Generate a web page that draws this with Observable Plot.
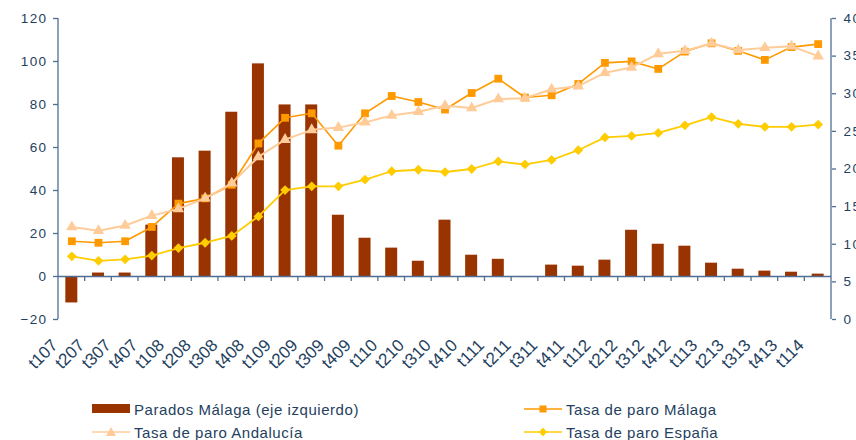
<!DOCTYPE html>
<html>
<head>
<meta charset="utf-8">
<script src="https://cdn.jsdelivr.net/npm/d3@7"></script>
<script src="https://cdn.jsdelivr.net/npm/@observablehq/plot@0.6"></script>
<style>
  html, body { margin: 0; padding: 0; background: #fff; }
  #wrap { position: relative; width: 856px; height: 440px; overflow: hidden; font-family: "Liberation Sans", Arial, sans-serif; }
  #chart { position: absolute; left: 0; top: 0; }
  #chart g[aria-label="y-axis tick label"] { letter-spacing: 1.4px; }
  .lg { position: absolute; display: flex; align-items: center; font-size: 15px; color: #243F60; letter-spacing: 0.55px; white-space: nowrap; }
  .lg svg { margin-right: 4px; }
</style>
</head>
<body>
<div id="wrap">
  <div id="chart"></div>
  <div id="legend"></div>
</div>
<script>
// ---- data ----
const periods = ["t107","t207","t307","t407","t108","t208","t308","t408","t109","t209","t309","t409","t110","t210","t310","t410","t111","t211","t311","t411","t112","t212","t312","t412","t113","t213","t313","t413","t114"];
const paradosMalaga = [-12.3, 1.6, 1.6, 23.9, 55.2, 58.3, 76.4, 98.9, 79.8, 79.8, 28.5, 17.8, 13.2, 7.1, 26.2, 9.9, 8.0, -0.5, 5.3, 4.8, 7.6, 21.5, 15.0, 14.1, 6.2, 3.4, 2.5, 2.0, 1.1];
const tasaMalaga = [10.4, 10.2, 10.4, 12.3, 15.4, 16.1, 17.9, 23.4, 26.8, 27.4, 23.1, 27.4, 29.7, 28.9, 27.9, 30.1, 32.0, 29.5, 29.8, 31.3, 34.1, 34.3, 33.3, 35.6, 36.7, 35.7, 34.5, 36.2, 36.6];
const tasaAndalucia = [12.3, 11.8, 12.5, 13.8, 14.7, 16.1, 18.1, 21.6, 23.9, 25.2, 25.5, 26.2, 27.1, 27.6, 28.4, 28.1, 29.3, 29.4, 30.6, 31.0, 32.8, 33.5, 35.3, 35.7, 36.7, 35.8, 36.1, 36.3, 35.0];
const tasaEspana = [8.4, 7.8, 8.0, 8.5, 9.5, 10.2, 11.1, 13.7, 17.2, 17.7, 17.7, 18.6, 19.7, 19.9, 19.6, 20.0, 21.0, 20.6, 21.2, 22.5, 24.2, 24.4, 24.8, 25.8, 26.9, 26.0, 25.6, 25.6, 25.9];
const leftTicks = [-20, 0, 20, 40, 60, 80, 100, 120];
const rightTicks = [0, 5, 10, 15, 20, 25, 30, 35, 40];
const seriesNames = ["Parados Málaga (eje izquierdo)", "Tasa de paro Málaga", "Tasa de paro Andalucía", "Tasa de paro España"];

// ---- styling ----
const navy = "#243F60";
const axisColor = "#4F6E93";
const colBar = "#993300", colMal = "#FF9900", colAnd = "#FFCC99", colEsp = "#FFCC00";

const leftDomain = [leftTicks[0], leftTicks[leftTicks.length - 1]];
const rightDomain = [rightTicks[0], rightTicks[rightTicks.length - 1]];
const k = (leftDomain[1] - leftDomain[0]) / (rightDomain[1] - rightDomain[0]);
const toLeft = v => leftDomain[0] + (v - rightDomain[0]) * k;
const fromLeft = v => rightDomain[0] + (v - leftDomain[0]) / k;

const rows = periods.map((p, i) => ({
  period: p,
  parados: paradosMalaga[i],
  malaga: toLeft(tasaMalaga[i]),
  andalucia: toLeft(tasaAndalucia[i]),
  espana: toLeft(tasaEspana[i])
}));

const W = 856, H = 390;
const mL = 58, mR = 25, mT = 18, mB = 71;

// custom axis lines & category boundary ticks using the plot's scales
function axisFrame(index, scales, values, dimensions) {
  const g = d3.create("svg:g").attr("stroke", axisColor).attr("stroke-width", 1.3);
  const x0 = dimensions.marginLeft, x1 = dimensions.width - dimensions.marginRight;
  const yTop = scales.y(leftDomain[1]), yBot = scales.y(leftDomain[0]), y0 = scales.y(0);
  g.append("line").attr("x1", x0).attr("x2", x0).attr("y1", yTop).attr("y2", yBot);
  g.append("line").attr("x1", x1).attr("x2", x1).attr("y1", yTop).attr("y2", yBot);
  const step = scales.x.step();
  const bw = scales.x.bandwidth();
  periods.slice(1).forEach(p => {
    const xb = scales.x(p) + bw / 2 - step / 2;
    g.append("line").attr("x1", xb).attr("x2", xb).attr("y1", y0).attr("y2", y0 + 5);
  });
  return g.node();
}

const chart = Plot.plot({
  width: W, height: H,
  marginLeft: mL, marginRight: mR, marginTop: mT, marginBottom: mB,
  style: { fontFamily: "Liberation Sans, Arial, sans-serif", background: "white", color: navy, overflow: "visible" },
  x: { domain: periods, paddingInner: 0.55, paddingOuter: 0.275, round: false, axis: null, label: null },
  y: { domain: leftDomain, axis: null, label: null },
  marks: [
    Plot.barY(rows, { x: "period", y: "parados", fill: colBar }),
    Plot.ruleY([0], { stroke: axisColor, strokeWidth: 1.3 }),
    axisFrame,
    Plot.axisY(leftTicks, { anchor: "left", label: null, tickSize: 5, tickPadding: 6, fontSize: 13.5, stroke: axisColor, fill: navy, strokeWidth: 1.3 }),
    Plot.axisY(rightTicks.map(toLeft), { anchor: "right", label: null, tickSize: 4, tickPadding: 8, fontSize: 13.5, stroke: axisColor, fill: navy, strokeWidth: 1.3, tickFormat: d => String(Math.round(fromLeft(d))) }),
    Plot.text(rows, { x: "period", text: "period", frameAnchor: "bottom", rotate: -45, textAnchor: "end", lineAnchor: "middle", fontSize: 17, fill: navy, dx: -17, dy: 23 }),
    Plot.line(rows, { x: "period", y: "malaga", stroke: colMal, strokeWidth: 1.6 }),
    Plot.dot(rows, { x: "period", y: "malaga", symbol: "square", r: 4.4, fill: colMal, stroke: "none" }),
    Plot.line(rows, { x: "period", y: "andalucia", stroke: colAnd, strokeWidth: 2 }),
    Plot.dot(rows, { x: "period", y: "andalucia", symbol: "triangle", r: 4.2, fill: colAnd, stroke: "none" }),
    Plot.line(rows, { x: "period", y: "espana", stroke: colEsp, strokeWidth: 1.8 }),
    Plot.dot(rows, { x: "period", y: "espana", symbol: "diamond2", r: 4.4, fill: colEsp, stroke: "none" })
  ]
});
document.getElementById("chart").appendChild(chart);

// ---- legend ----
const legend = document.getElementById("legend");
const items = [
  { name: seriesNames[0], kind: "bar", color: colBar, left: 92, top: 409 },
  { name: seriesNames[1], kind: "square", color: colMal, left: 524, top: 409 },
  { name: seriesNames[2], kind: "triangle", color: colAnd, left: 92, top: 432 },
  { name: seriesNames[3], kind: "diamond", color: colEsp, left: 524, top: 432 }
];
items.forEach(it => {
  const div = document.createElement("div");
  div.className = "lg";
  div.style.left = it.left + "px";
  div.style.top = (it.top - 10) + "px";
  div.style.height = "20px";
  let sw;
  if (it.kind === "bar") {
    sw = `<svg width="38" height="20"><rect x="0" y="5" width="38" height="9" fill="${it.color}"/></svg>`;
  } else {
    let m = "";
    if (it.kind === "square") m = `<rect x="15.5" y="6.5" width="7" height="7" fill="${it.color}"/>`;
    if (it.kind === "triangle") m = `<path d="M19,5 L24,14 L14,14 Z" fill="${it.color}"/>`;
    if (it.kind === "diamond") m = `<path d="M19,5.5 L23,10 L19,14.5 L15,10 Z" fill="${it.color}"/>`;
    sw = `<svg width="38" height="20"><line x1="0" x2="38" y1="10" y2="10" stroke="${it.color}" stroke-width="1.6"/>${m}</svg>`;
  }
  div.innerHTML = sw + `<span>${it.name}</span>`;
  legend.appendChild(div);
});
</script>
</body>
</html>
